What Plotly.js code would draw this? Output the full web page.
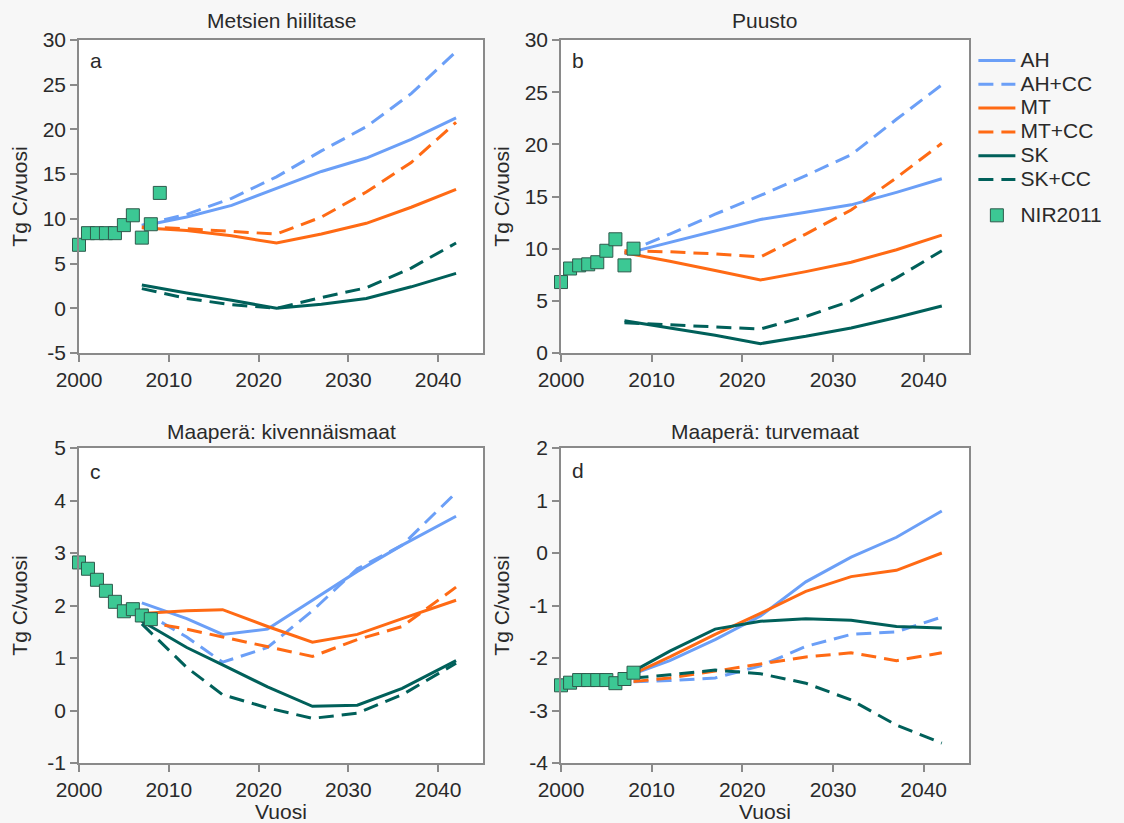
<!DOCTYPE html>
<html><head><meta charset="utf-8">
<script src="https://cdn.plot.ly/plotly-3.0.1.min.js"></script>
<style>html,body{margin:0;padding:0;background:#f7f7f7;} #chart{width:1124px;height:823px;}</style>
</head><body><div id="chart"></div>
<script>
// ---- data ----
const seriesNames = ['AH', 'AH+CC', 'MT', 'MT+CC', 'SK', 'SK+CC'];
const panelTitles = ['Metsien hiilitase', 'Puusto', 'Maaperä: kivennäismaat', 'Maaperä: turvemaat'];
const panelLetters = ['a', 'b', 'c', 'd'];

const yearsA = [2007, 2012, 2017, 2022, 2027, 2032, 2037, 2042];
const yearsB = [2007, 2012, 2017, 2022, 2027, 2032, 2037, 2042];
const yearsC = [2007, 2012, 2016, 2021, 2026, 2031, 2036, 2042];
const yearsD = [2008, 2012, 2017, 2022, 2027, 2032, 2037, 2042];

// a: Metsien hiilitase
const ahA   = [9.2, 10.2, 11.5, 13.4, 15.3, 16.8, 18.9, 21.3];
const ahccA = [9.3, 10.5, 12.3, 14.7, 17.6, 20.3, 24.0, 28.7];
const mtA   = [9.0, 8.7, 8.1, 7.3, 8.3, 9.5, 11.3, 13.3];
const mtccA = [9.1, 8.9, 8.6, 8.3, 10.2, 13.0, 16.3, 20.8];
const skA   = [2.6, 1.7, 0.9, 0.0, 0.45, 1.1, 2.4, 3.9];
const skccA = [2.2, 1.1, 0.4, 0.0, 1.2, 2.3, 4.5, 7.3];

// b: Puusto
const ahB   = [9.5, 10.6, 11.7, 12.8, 13.5, 14.2, 15.4, 16.7];
const ahccB = [9.6, 11.4, 13.3, 15.1, 17.0, 19.0, 22.4, 25.7];
const mtB   = [9.6, 8.8, 7.9, 7.0, 7.8, 8.7, 9.9, 11.3];
const mtccB = [9.8, 9.7, 9.5, 9.2, 11.4, 13.7, 16.8, 20.1];
const skB   = [3.1, 2.4, 1.7, 0.9, 1.6, 2.4, 3.4, 4.5];
const skccB = [2.9, 2.7, 2.5, 2.3, 3.5, 5.0, 7.2, 9.8];

// c: Maaperä: kivennäismaat
const ahC   = [2.05, 1.75, 1.45, 1.55, 2.1, 2.65, 3.15, 3.7];
const ahccC = [1.9, 1.4, 0.92, 1.2, 1.9, 2.7, 3.15, 4.15];
const mtC   = [1.85, 1.9, 1.92, 1.6, 1.3, 1.45, 1.75, 2.1];
const mtccC = [1.7, 1.55, 1.4, 1.22, 1.03, 1.35, 1.6, 2.35];
const skC   = [1.7, 1.2, 0.87, 0.45, 0.08, 0.1, 0.42, 0.95];
const skccC = [1.65, 0.82, 0.3, 0.05, -0.15, -0.05, 0.3, 0.9];

// d: Maaperä: turvemaat
const ahD   = [-2.3, -2.05, -1.65, -1.2, -0.55, -0.08, 0.3, 0.8];
const ahccD = [-2.45, -2.43, -2.38, -2.15, -1.78, -1.55, -1.5, -1.22];
const mtD   = [-2.3, -1.98, -1.55, -1.15, -0.73, -0.45, -0.33, 0.0];
const mtccD = [-2.45, -2.38, -2.25, -2.12, -1.98, -1.9, -2.05, -1.9];
const skD   = [-2.25, -1.87, -1.45, -1.3, -1.25, -1.28, -1.4, -1.43];
const skccD = [-2.38, -2.32, -2.23, -2.3, -2.48, -2.8, -3.28, -3.62];

// NIR2011 observations
const nirName = 'NIR2011';
const nirYearsA = [2000, 2001, 2002, 2003, 2004, 2005, 2006, 2007, 2008, 2009];
const nirYears = [2000, 2001, 2002, 2003, 2004, 2005, 2006, 2007, 2008];
const nirA = [7.1, 8.4, 8.4, 8.4, 8.4, 9.3, 10.4, 7.9, 9.4, 12.9];
const nirB = [6.8, 8.1, 8.4, 8.5, 8.7, 9.8, 10.9, 8.4, 10.0];
const nirC = [2.82, 2.70, 2.49, 2.28, 2.07, 1.89, 1.93, 1.81, 1.74];
const nirD = [-2.52, -2.47, -2.42, -2.42, -2.42, -2.42, -2.48, -2.40, -2.28];

// ticks
const xTickVals = [2000, 2010, 2020, 2030, 2040];
const yTickValsA = [-5, 0, 5, 10, 15, 20, 25, 30];
const yTickTextA = ['-5', '0', '5', '10', '15', '20', '25', '30'];
const yTickValsB = [0, 5, 10, 15, 20, 25, 30];
const yTickTextB = ['0', '5', '10', '15', '20', '25', '30'];
const yTickValsC = [-1, 0, 1, 2, 3, 4, 5];
const yTickTextC = ['-1', '0', '1', '2', '3', '4', '5'];
const yTickValsD = [-4, -3, -2, -1, 0, 1, 2];
const yTickTextD = ['-4', '-3', '-2', '-1', '0', '1', '2'];

// ---- styling ----
const colors = ['#6b9ff7', '#6b9ff7', '#ff6a14', '#ff6a14', '#00605a', '#00605a'];
const dashes = ['solid', '15px,8px', 'solid', '15px,8px', 'solid', '15px,8px'];
const FONT = 'Liberation Sans, Arial, sans-serif';
const FS = 21;
const TXT = '#2a2a2a';
const AX = '#8a8a8a';

const panels = [
  {years: yearsA, vals: [ahA, ahccA, mtA, mtccA, skA, skccA], nirX: nirYearsA, nirY: nirA, ax: ''},
  {years: yearsB, vals: [ahB, ahccB, mtB, mtccB, skB, skccB], nirX: nirYears, nirY: nirB, ax: '2'},
  {years: yearsC, vals: [ahC, ahccC, mtC, mtccC, skC, skccC], nirX: nirYears, nirY: nirC, ax: '3'},
  {years: yearsD, vals: [ahD, ahccD, mtD, mtccD, skD, skccD], nirX: nirYears, nirY: nirD, ax: '4'}
];

const traces = [];
panels.forEach((p, pi) => {
  p.vals.forEach((v, si) => {
    traces.push({
      x: p.years, y: v, type: 'scatter', mode: 'lines',
      name: '<span style="font-size:' + FS + 'px">' + seriesNames[si] + '</span>',
      legendgroup: 'proj', showlegend: pi === 0,
      line: {color: colors[si], width: 3, dash: dashes[si]},
      xaxis: 'x' + p.ax, yaxis: 'y' + p.ax, hoverinfo: 'x+y'
    });
  });
});
panels.forEach((p, pi) => {
  traces.push({
    x: p.nirX, y: p.nirY, type: 'scatter', mode: 'markers',
    name: '<span style="font-size:' + FS + 'px">' + nirName + '</span>',
    legendgroup: 'nir', showlegend: pi === 0, cliponaxis: false,
    marker: {symbol: 'square', size: 13, color: '#3cc894', line: {color: '#2f5a4c', width: 1}},
    xaxis: 'x' + p.ax, yaxis: 'y' + p.ax
  });
});

function xax(domain, anchor, title) {
  const o = {
    domain: domain, anchor: anchor, range: [2000, 2045],
    tickvals: xTickVals, ticks: 'outside', ticklen: 7, tickwidth: 1.5, tickcolor: AX,
    showline: true, mirror: true, linecolor: AX, linewidth: 1.5,
    showgrid: false, zeroline: false,
    tickfont: {family: FONT, size: FS, color: TXT}
  };
  if (title) o.title = {text: title, font: {family: FONT, size: FS, color: TXT}, standoff: 2};
  return o;
}
function yax(domain, anchor, range, vals, text) {
  return {
    domain: domain, anchor: anchor, range: range,
    tickvals: vals, ticktext: text, ticks: 'outside', ticklen: 7, tickwidth: 1.5, tickcolor: AX,
    showline: true, mirror: true, linecolor: AX, linewidth: 1.5,
    showgrid: false, zeroline: false,
    tickfont: {family: FONT, size: FS, color: TXT},
    title: {text: 'Tg C/vuosi', font: {family: FONT, size: FS, color: TXT}}
  };
}

const W = 1124, H = 823;
const dxL = [79 / W, 483 / W], dxR = [561 / W, 969 / W];
const dyT = [1 - 353 / H, 1 - 40 / H], dyB = [1 - 763 / H, 1 - 448 / H];

const annotations = [];
const centers = [[(79 + 483) / 2, 21], [(561 + 969) / 2, 21], [(79 + 483) / 2, 431], [(561 + 969) / 2, 431]];
panelTitles.forEach((t, i) => {
  annotations.push({text: t, xref: 'paper', yref: 'paper', x: centers[i][0] / W, y: 1 - centers[i][1] / H,
    xanchor: 'center', yanchor: 'middle', showarrow: false, font: {family: FONT, size: FS, color: TXT}});
});
const letterPos = [[88, 60], [570, 60], [88, 471], [570, 470]];
panelLetters.forEach((t, i) => {
  annotations.push({text: t, xref: 'paper', yref: 'paper', x: letterPos[i][0] / W, y: 1 - letterPos[i][1] / H,
    xanchor: 'left', yanchor: 'middle', showarrow: false, font: {family: FONT, size: FS, color: TXT}});
});

const layout = {
  width: W, height: H,
  margin: {l: 0, r: 0, t: 0, b: 0},
  paper_bgcolor: '#f7f7f7', plot_bgcolor: '#ffffff',
  font: {family: FONT, size: FS, color: TXT},
  showlegend: true,
  legend: {x: 0.866, y: 0.947, xanchor: 'left', yanchor: 'top', bgcolor: 'rgba(0,0,0,0)',
    font: {family: FONT, size: 16, color: TXT}, itemwidth: 37, traceorder: 'grouped', tracegroupgap: 12},
  xaxis: xax(dxL, 'y', null), yaxis: yax(dyT, 'x', [-5, 30], yTickValsA, yTickTextA),
  xaxis2: xax(dxR, 'y2', null), yaxis2: yax(dyT, 'x2', [0, 30], yTickValsB, yTickTextB),
  xaxis3: xax(dxL, 'y3', 'Vuosi'), yaxis3: yax(dyB, 'x3', [-1, 5], yTickValsC, yTickTextC),
  xaxis4: xax(dxR, 'y4', 'Vuosi'), yaxis4: yax(dyB, 'x4', [-4, 2], yTickValsD, yTickTextD),
  annotations: annotations
};

Plotly.newPlot('chart', traces, layout, {displayModeBar: false, responsive: false});
</script></body></html>
